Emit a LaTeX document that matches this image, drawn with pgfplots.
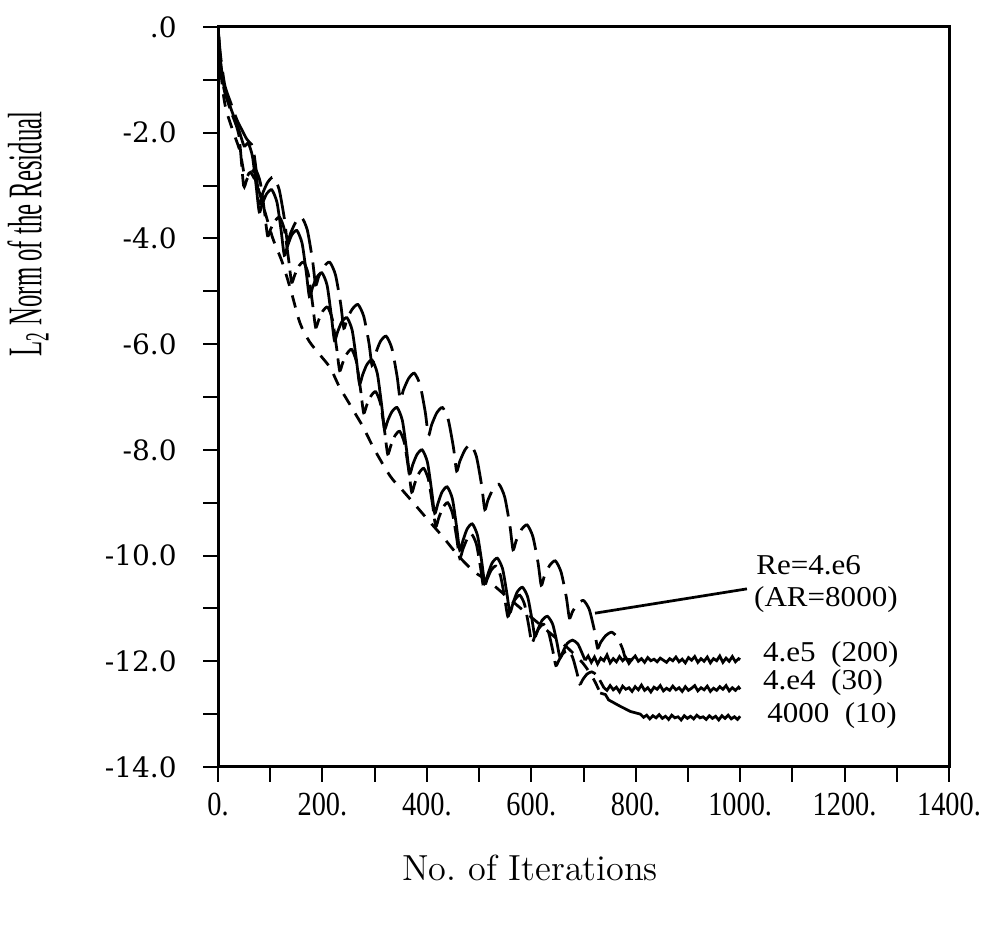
\documentclass[border=0pt]{standalone}
\usepackage{pgfplots}
\pgfplotsset{compat=1.18}
\usepackage{fontspec}
\newfontfamily\tnr{Liberation Serif}
\newfontfamily\dvs{DejaVu Serif}
\newcommand{\xt}[1]{\scalebox{0.84}[1]{\tnr\fontsize{13.5}{15}\selectfont #1}}
\newcommand{\yt}[1]{\mbox{\dvs\fontsize{11.2}{13}\selectfont #1}}
\newcommand{\an}[1]{\scalebox{1.08}[1]{\tnr\fontsize{11.5}{13}\selectfont #1}}
\begin{document}
\begin{tikzpicture}
\path[use as bounding box] (0,0) rectangle (395.2pt,371.2pt);
\begin{axis}[
  at={(87.2pt,64.4pt)}, anchor=south west, scale only axis,
  width=292.4pt, height=296pt,
  xmin=0, xmax=1400, ymin=-14, ymax=0,
  axis line style={line width=1.2pt},
  tick align=outside, xtick pos=left, ytick pos=left,
  xtick={0,200,...,1400}, minor xtick={100,300,...,1300},
  ytick={-14,-12,...,0}, minor ytick={-13,-11,...,-1},
  major tick length=6pt, minor tick length=6pt,
  every tick/.style={black, line width=0.8pt},
  xticklabels={\xt{0.},\xt{200.},\xt{400.},\xt{600.},\xt{800.},\xt{1000.},\xt{1200.},\xt{1400.}},
  yticklabels={\yt{-14.0},\yt{-12.0},\yt{-10.0},\yt{-8.0},\yt{-6.0},\yt{-4.0},\yt{-2.0},\yt{.0}},
  yticklabel style={xshift=-7pt},
  xticklabel style={yshift=-1pt},
  xlabel={No.\ of Iterations},
  xlabel style={font=\fontsize{14.5}{17}\selectfont, at={(axis description cs:0.427,-0.1365)}, anchor=center},
  ylabel={\scalebox{1}[1.95]{\tnr\fontsize{9.9}{11}\selectfont L\textsubscript{2} Norm of the Residual}},
  ylabel style={at={(axis description cs:-0.26,0.72)}, anchor=center},
]
% Re=4.e6 (AR=8000)
\addplot[black, line width=1.1pt, smooth, tension=0.4, dash pattern=on 14pt off 4pt] coordinates {
(0,0) (5,-0.55) (13,-1.1) (25,-1.45) (36,-1.75) (46,-1.95) (55,-2.12) (62,-2.2) (67,-2.28) (73,-2.7) (79,-3.35)
(85,-3.16) (95,-2.94) (106,-2.84) (117,-3.07) (127,-3.62) (133,-4.07)
(139,-3.90) (149,-3.69) (160,-3.6) (171,-3.84) (181,-4.41) (187,-4.88)
(193,-4.72) (203,-4.53) (214,-4.45) (225,-4.69) (235,-5.24) (241,-5.70)
(247,-5.53) (257,-5.34) (268,-5.25) (279,-5.47) (289,-5.97) (295,-6.40)
(301,-6.20) (311,-5.95) (322,-5.85) (333,-6.08) (343,-6.61) (349,-7.05)
(355,-6.87) (365,-6.65) (376,-6.55) (387,-6.77) (397,-7.29) (403,-7.73)
(409,-7.53) (419,-7.30) (430,-7.2) (441,-7.43) (451,-7.96) (457,-8.40)
(463,-8.22) (473,-8.00) (484,-7.9) (495,-8.13) (505,-8.68) (511,-9.13)
(517,-8.95) (527,-8.74) (538,-8.65) (549,-8.89) (559,-9.43) (565,-9.89)
(571,-9.72) (581,-9.51) (592,-9.42) (603,-9.64) (613,-10.14) (619,-10.56)
(625,-10.39) (635,-10.19) (646,-10.1) (657,-10.31) (667,-10.78) (673,-11.18)
(679,-11.06) (689,-10.91) (700,-10.85) (711,-11.02) (721,-11.42) (727,-11.75)
(733,-11.64) (743,-11.51) (754,-11.45) (765,-11.55) (775,-11.77) (781,-11.95) (795,-11.97)
};
% 4.e5 (200)
\addplot[black, line width=1.1pt, smooth, tension=0.4] coordinates {
(0,0) (5,-0.65) (12,-1.15) (25,-1.55) (40,-1.95) (50,-2.25) (58,-2.2) (66,-2.45) (73,-3.0) (79,-3.5)
(85,-3.34) (93,-3.16) (103,-3.08) (113,-3.32) (121,-3.86) (127,-4.32)
(133,-4.15) (141,-3.94) (151,-3.85) (161,-4.09) (169,-4.64) (175,-5.10)
(181,-4.93) (189,-4.74) (199,-4.65) (209,-4.89) (217,-5.46) (223,-5.93)
(229,-5.77) (237,-5.58) (247,-5.5) (257,-5.74) (265,-6.29) (271,-6.75)
(277,-6.58) (285,-6.39) (295,-6.3) (305,-6.55) (313,-7.12) (319,-7.60)
(325,-7.45) (333,-7.28) (343,-7.2) (353,-7.44) (361,-7.99) (367,-8.45)
(373,-8.28) (381,-8.09) (391,-8.0) (401,-8.23) (409,-8.76) (415,-9.20)
(421,-9.02) (429,-8.80) (439,-8.7) (449,-8.93) (457,-9.46) (463,-9.90)
(469,-9.72) (477,-9.50) (487,-9.4) (497,-9.62) (505,-10.11) (511,-10.53)
(517,-10.35) (525,-10.14) (535,-10.05) (545,-10.25) (553,-10.70) (559,-11.08)
(565,-10.90) (573,-10.69) (583,-10.6) (593,-10.78) (601,-11.19) (607,-11.53)
(613,-11.39) (621,-11.22) (631,-11.15) (641,-11.30) (649,-11.64) (655,-11.93)
(661,-11.81) (669,-11.66) (679,-11.6) (689,-11.67) (697,-11.84) (703,-11.98)
};
\addplot[black, line width=1.1pt] coordinates {
(703,-11.98) (709,-11.90) (715,-12.02) (721,-11.92) (727,-12.05) (733,-11.94) (739,-11.99) (745,-11.88)
(751,-12.03) (757,-11.95) (763,-12.01) (769,-11.91) (775,-11.99) (781,-11.93) (787,-12.04) (793,-11.96)
(799,-11.90) (805,-12.00) (811,-11.95) (817,-12.02) (823,-11.93) (829,-11.99) (835,-11.96) (841,-12.01)
(847,-11.94) (853,-11.98) (859,-12.02) (865,-11.95) (871,-11.99) (877,-11.92) (883,-12.01) (889,-11.96)
(895,-12.03) (901,-11.93) (907,-11.98) (913,-11.91) (919,-12.02) (925,-11.95) (931,-12.00) (937,-11.92)
(943,-12.03) (949,-11.95) (955,-11.99) (961,-11.90) (967,-12.02) (973,-11.94) (979,-12.00) (985,-11.91)
(991,-12.01) (997,-11.95) (1000,-11.97)
};
% 4.e4 (30)
\addplot[black, line width=1.1pt, smooth, tension=0.4, dash pattern=on 9pt off 3pt] coordinates {
(0,0) (5,-0.7) (12,-1.2) (25,-1.6) (40,-2.05) (49,-3.0)
(55,-2.89) (63,-2.76) (72,-2.7) (81,-2.94) (89,-3.49) (95,-3.95)
(101,-3.82) (109,-3.67) (118,-3.6) (127,-3.83) (135,-4.38) (141,-4.83)
(147,-4.69) (155,-4.52) (164,-4.45) (173,-4.68) (181,-5.23) (187,-5.68)
(193,-5.54) (201,-5.37) (210,-5.3) (219,-5.53) (227,-6.06) (233,-6.50)
(239,-6.35) (247,-6.18) (256,-6.1) (265,-6.33) (273,-6.86) (279,-7.30)
(285,-7.15) (293,-6.98) (302,-6.9) (311,-7.12) (319,-7.64) (325,-8.08)
(331,-7.92) (339,-7.73) (348,-7.65) (357,-7.87) (365,-8.37) (371,-8.80)
(377,-8.63) (385,-8.44) (394,-8.35) (403,-8.56) (411,-9.04) (417,-9.45)
(423,-9.28) (431,-9.09) (440,-9.0) (449,-9.20) (457,-9.66) (463,-10.05)
(469,-9.88) (477,-9.69) (486,-9.6) (495,-9.79) (503,-10.24) (509,-10.62)
(515,-10.46) (523,-10.28) (532,-10.2) (541,-10.38) (549,-10.80) (555,-11.15)
(561,-11.00) (569,-10.83) (578,-10.75) (587,-10.92) (595,-11.32) (601,-11.65)
(607,-11.52) (615,-11.37) (624,-11.3) (633,-11.45) (641,-11.79) (647,-12.08)
(653,-11.98) (661,-11.85) (670,-11.8) (679,-11.92) (687,-12.20) (693,-12.43)
(699,-12.34) (707,-12.24) (716,-12.2) (725,-12.26) (733,-12.39) (739,-12.5)
};
\addplot[black, line width=1.1pt] coordinates {
(739,-12.50) (745,-12.55) (751,-12.46) (757,-12.54) (763,-12.49) (769,-12.58) (775,-12.47) (781,-12.53)
(787,-12.50) (793,-12.57) (799,-12.48) (805,-12.54) (811,-12.45) (817,-12.55) (823,-12.50) (829,-12.58)
(835,-12.49) (841,-12.53) (847,-12.46) (853,-12.56) (859,-12.51) (865,-12.55) (871,-12.47) (877,-12.54)
(883,-12.50) (889,-12.57) (895,-12.48) (901,-12.55) (907,-12.51) (913,-12.46) (919,-12.56) (925,-12.50)
(931,-12.54) (937,-12.47) (943,-12.57) (949,-12.51) (955,-12.55) (961,-12.48) (967,-12.53) (973,-12.46)
(979,-12.56) (985,-12.50) (991,-12.55) (997,-12.49) (1000,-12.53)
};
% 4000 (10)
\addplot[black, line width=1.1pt, smooth, tension=0.5, dash pattern=on 5pt off 4pt] coordinates {
(0,0) (6,-0.9) (14,-1.5) (28,-1.95) (42,-2.35) (52,-2.85) (62,-2.75) (75,-3.0) (90,-3.5) (105,-4.0)
(123,-4.45) (140,-5.0) (157,-5.6) (175,-5.95) (195,-6.2) (215,-6.45) (232,-6.8) (247,-7.05) (262,-7.3)
(278,-7.57) (300,-8.0) (330,-8.5) (352,-8.75) (374,-9.0) (400,-9.3) (431,-9.65) (460,-10.0) (490,-10.3)
(520,-10.5) (550,-10.75) (580,-11.0) (610,-11.25) (640,-11.5) (670,-11.75) (700,-12.05) (720,-12.35) (732,-12.6)
};
\addplot[black, line width=1.1pt] coordinates {
(732,-12.6) (742,-12.63) (748,-12.73) (770,-12.85) (790,-12.95)
(809,-13.00) (815,-13.06) (821,-13.02) (827,-13.09) (833,-13.03) (839,-13.07) (845,-13.01) (851,-13.08)
(857,-13.04) (863,-13.10) (869,-13.02) (875,-13.07) (881,-13.05) (887,-13.11) (893,-13.03) (899,-13.08)
(905,-13.04) (911,-13.09) (917,-13.02) (923,-13.07) (929,-13.05) (935,-13.10) (941,-13.03) (947,-13.08)
(953,-13.04) (959,-13.11) (965,-13.03) (971,-13.08) (977,-13.02) (983,-13.09) (989,-13.05) (995,-13.10)
(1000,-13.04)
};
% pointer line
\addplot[black, line width=1.1pt] coordinates {(722,-11.09) (1013,-10.63)};
\node[anchor=west, inner sep=0pt] at (axis cs:1030,-10.18) {\an{Re=4.e6}};
\node[anchor=west, inner sep=0pt] at (axis cs:1026,-10.84) {\an{(AR=8000)}};
\node[anchor=west, inner sep=0pt] at (axis cs:1043,-11.88) {\an{4.e5~~(200)}};
\node[anchor=west, inner sep=0pt] at (axis cs:1043,-12.41) {\an{4.e4~~(30)}};
\node[anchor=west, inner sep=0pt] at (axis cs:1051,-13.02) {\an{4000~~(10)}};
\end{axis}
\end{tikzpicture}
\end{document}
